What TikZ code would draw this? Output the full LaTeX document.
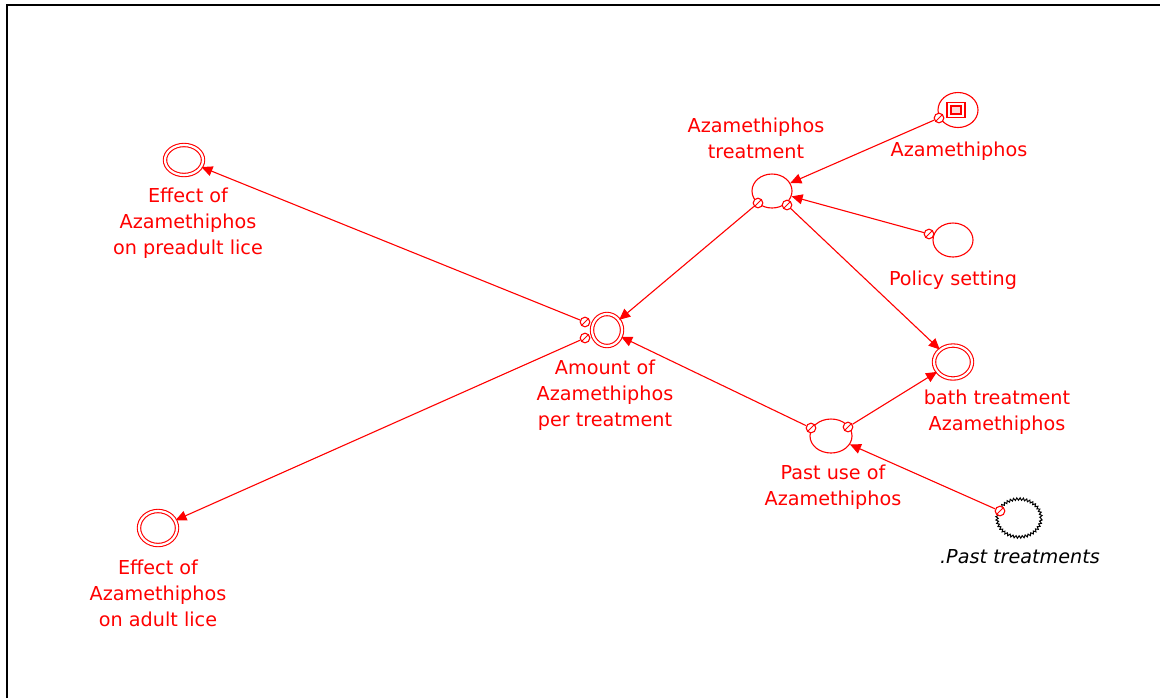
\documentclass[tikz,border=0pt]{standalone}
\usepackage{fontspec}
\setmainfont{DejaVu Sans}
\usetikzlibrary{shapes.geometric,arrows.meta,decorations.pathmorphing}
\begin{document}
\begin{tikzpicture}[x=0.5pt,y=-0.5pt,
  var/.style={ellipse,draw=red,line width=0.55pt,inner sep=0pt},
  dbl/.style={var,double=white,double distance=1.1pt},
  ghost/.style={ellipse,draw=black,line width=0.5pt,inner sep=0pt,
     decorate,decoration={zigzag,segment length=1.6pt,amplitude=0.6pt}},
  port/.style={circle,draw=red,fill=white,line width=0.55pt,minimum size=4.8pt,inner sep=0pt,
     path picture={\draw[red,line width=0.4pt] ([shift={(0.8pt,0.8pt)}]path picture bounding box.south west) -- ([shift={(-0.8pt,-0.8pt)}]path picture bounding box.north east);}},
  lbl/.style={text=red,align=center,inner sep=0pt,font=\fontsize{9.6}{13}\selectfont},
  arr/.style={draw=red,line width=0.55pt,-{Triangle[length=5.5pt,width=5pt]}}]
\useasboundingbox (0,0) rectangle (1160,698);
\fill[white] (0,0) rectangle (1160,698);
\draw[line width=1pt] (7,698) -- (7,5) -- (1160,5);

% main variables
\node[var,minimum width=20pt,minimum height=17pt] (treat) at (772,191) {};
\node[var,minimum width=20pt,minimum height=17.5pt] (azam) at (958,110) {};
\node[draw=red,line width=0.6pt,minimum width=9pt,minimum height=7.5pt,inner sep=0pt] (azsq) at (956,110) {};
\node[draw=red,fill=red!15,line width=0.6pt,minimum width=5pt,minimum height=4pt,inner sep=0pt] (azsqi) at (956,110) {};
\node[var,minimum width=20pt,minimum height=17pt] (policy) at (953,240) {};
\node[dbl,minimum width=15pt,minimum height=16pt] (amount) at (607,330) {};
\node[dbl,minimum width=19pt,minimum height=15pt] (pread) at (184,160) {};
\node[dbl,minimum width=19pt,minimum height=17pt] (adult) at (158,528) {};
\node[dbl,minimum width=19pt,minimum height=16.5pt] (bath) at (953,362) {};
\node[var,minimum width=21pt,minimum height=17pt] (pastuse) at (831,436) {};
\node[ghost,minimum width=22pt,minimum height=19pt] (pasttr) at (1019,518) {};

% labels
\node[lbl] (treatL) at (756,138) {Azamethiphos\\treatment};
\node[lbl] (azamL) at (959,151) {Azamethiphos};
\node[lbl] (policyL) at (953,280) {Policy setting};
\node[lbl] (amountL) at (605,395) {Amount of\\Azamethiphos\\per treatment};
\node[lbl] (preadL) at (188,223) {Effect of\\Azamethiphos\\on preadult lice};
\node[lbl] (adultL) at (158,593) {Effect of\\Azamethiphos\\on adult lice};
\node[lbl] (bathL) at (997,412) {bath treatment\\Azamethiphos};
\node[lbl] (pastuseL) at (833,487) {Past use of\\Azamethiphos};
\node[lbl,text=black,font=\fontsize{9.6}{13}\selectfont\itshape] (pasttrL) at (1020,557) {.Past treatments};

% ports
\node[port] (s1) at (939,118) {};
\node[port] (s2) at (929,234) {};
\node[port] (s3) at (758,203) {};
\node[port] (s4) at (787,205) {};
\node[port] (s5) at (848,427) {};
\node[port] (s6) at (811,428) {};
\node[port] (s7) at (1000,511) {};
\node[port] (s8) at (585,322) {};
\node[port] (s9) at (585,338) {};

% connectors
\draw[arr] (s1) -- (treat);
\draw[arr] (s2) -- (treat);
\draw[arr] (s3) -- (amount);
\draw[arr] (s4) -- (bath);
\draw[arr] (s5) -- (bath);
\draw[arr] (s6) -- (amount);
\draw[arr] (s7) -- (pastuse);
\draw[arr] (s8) -- (pread);
\draw[arr] (s9) -- (adult);
\end{tikzpicture}
\end{document}
